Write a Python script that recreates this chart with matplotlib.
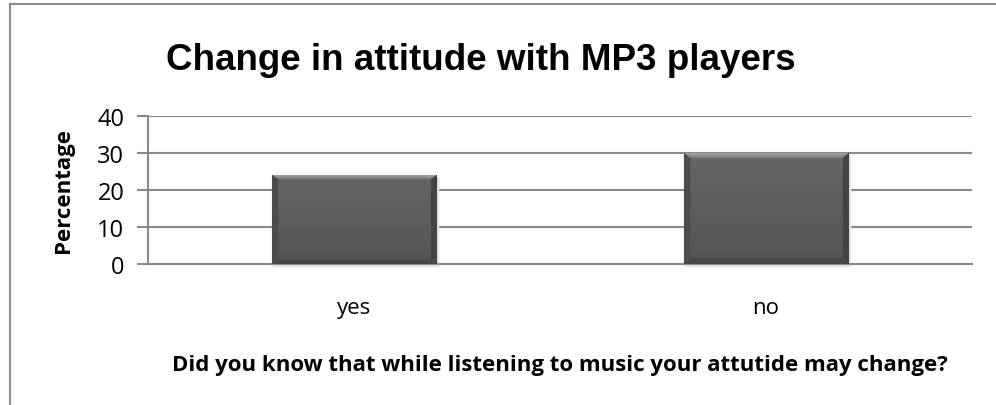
import numpy as np
import matplotlib.pyplot as plt
from matplotlib.lines import Line2D

# data
categories = ["yes", "no"]
percentages = [24, 30]
y_ticks = [0, 10, 20, 30, 40]

title = "Change in attitude with MP3 players"
x_label = "Did you know that while listening to music your attutide may change?"
y_label = "Percentage"

grid_color = "#8a8a8a"


def bevel_image(h=120, w=160, bevel=6):
    # grey bevelled face: light top rim, dark sides and bottom
    g = np.linspace(0.40, 0.33, h)[:, None] * np.ones((1, w))
    for k in range(bevel):
        t = 1 - k / bevel
        g[k, k:w - k] = 0.42 + 0.22 * t
        g[k:h - k, k] = np.minimum(g[k:h - k, k], 0.30)
        g[k:h - k, w - 1 - k] = np.minimum(g[k:h - k, w - 1 - k], 0.27)
        g[h - 1 - k, k:w - k] = 0.28
    return np.dstack([g, g, g])


fig = plt.figure(figsize=(9.96, 4.06), dpi=100)
ax = fig.add_axes([148 / 996, 141 / 406, 824 / 996, 148 / 406])

x = np.arange(len(categories))
bars = ax.bar(x, percentages, width=0.4, color="#5b5b5b", edgecolor="#444444",
              linewidth=0.8, zorder=3)
img = bevel_image()
for b in bars:
    # faint drop shadow to the right and below
    ax.add_patch(plt.Rectangle((b.get_x() + 0.004, -0.6), b.get_width(),
                               b.get_height(), color="#e4e4e4", zorder=2,
                               clip_on=False))
    im = ax.imshow(img, extent=(b.get_x(), b.get_x() + b.get_width(),
                                0, b.get_height()),
                   aspect="auto", zorder=3.5, interpolation="bilinear")
    im.set_clip_path(b)

ax.set_xlim(-0.5, len(categories) - 0.5)
ax.set_ylim(0, 40)
ax.set_yticks(y_ticks)
ax.set_xticks(list(x))
ax.set_xticklabels(categories, fontfamily="Open Sans", fontsize=16)
ax.tick_params(axis="x", length=0, pad=24)
ax.tick_params(axis="y", length=8, width=1.5, color=grid_color, pad=9,
               labelsize=17)
for lbl in ax.get_yticklabels():
    lbl.set_fontfamily("Open Sans")

ax.yaxis.grid(True, color=grid_color, linewidth=1.5, zorder=0)
ax.set_axisbelow(True)
for side in ["top", "right"]:
    ax.spines[side].set_visible(False)
for side in ["left", "bottom"]:
    ax.spines[side].set_color(grid_color)
    ax.spines[side].set_linewidth(1.5)

ax.set_ylabel(y_label, fontfamily="Open Sans", fontweight="bold", fontsize=16)
ax.yaxis.set_label_coords(-74 / 824, 0.5)
ax.set_xlabel(x_label, fontfamily="Open Sans", fontweight="bold", fontsize=16,
              labelpad=26)

fig.text(481 / 996, 1 - 60 / 406, title, ha="center", va="center",
         fontfamily="Liberation Sans", fontweight="bold", fontsize=26.5)

# outer chart border (top and left visible)
fig.add_artist(Line2D([10 / 996, 1], [1 - 5 / 406, 1 - 5 / 406],
                      transform=fig.transFigure, color="#8c8c8c", linewidth=1.5))
fig.add_artist(Line2D([10 / 996, 10 / 996], [0, 1 - 5 / 406],
                      transform=fig.transFigure, color="#8c8c8c", linewidth=1.5))

fig.savefig("out.png", dpi=100)
